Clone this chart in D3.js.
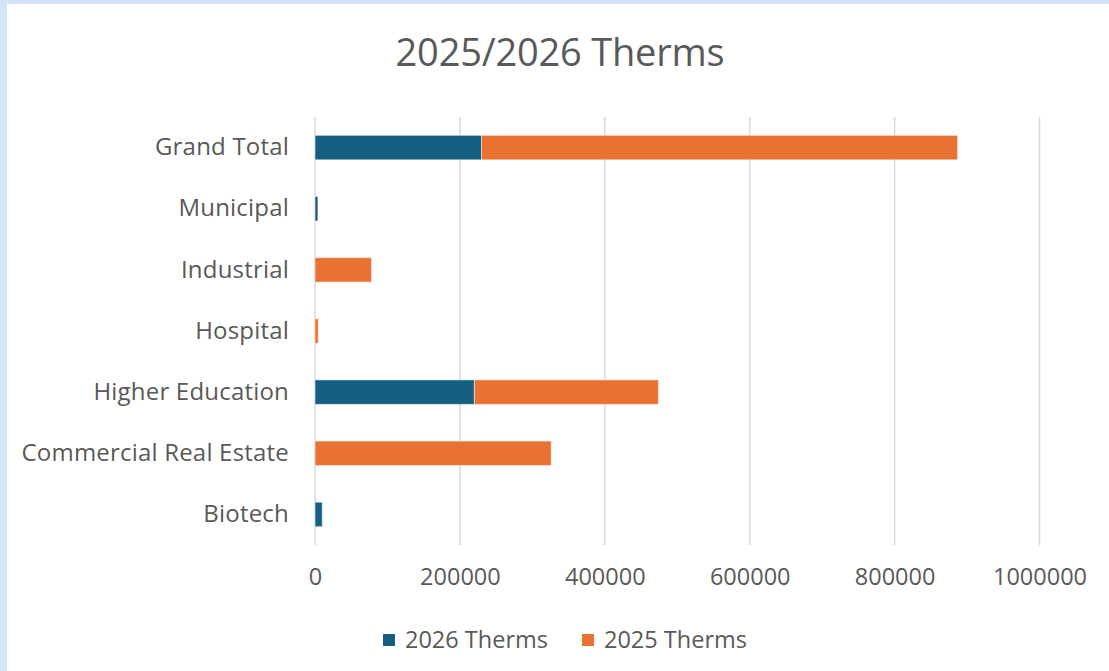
<!DOCTYPE html>
<head>
  <meta charset="utf-8">
  <script src="https://cdn.jsdelivr.net/npm/d3@7"></script>
  <style>
    body { margin: 0; background: #fff; }
    text { font-family: "Open Sans", sans-serif; fill: #595959; }
  </style>
</head>
<body>
<svg width="1109" height="671"></svg>
<script>
// data
var categories = ["Grand Total", "Municipal", "Industrial", "Hospital", "Higher Education", "Commercial Real Estate", "Biotech"];
var therms2026 = [230000, 4000, 0, 0, 220000, 0, 10000];
var therms2025 = [657000, 0, 78000, 4500, 254000, 326000, 0];
var ticks = [0, 200000, 400000, 600000, 800000, 1000000];
var seriesNames = ["2026 Therms", "2025 Therms"];
var colors = ["#156082", "#E97132"];

var svg = d3.select("svg");

// light blue frame on top / left
svg.append("rect").attr("width", 1109).attr("height", 671).attr("fill", "#d3e3f8");
svg.append("rect").attr("x", 7).attr("y", 4).attr("width", 1102).attr("height", 667).attr("fill", "#fff");

var x = d3.scaleLinear().domain([0, 1000000]).range([315, 1039.5]);
var y = d3.scaleBand().domain(categories).range([117, 545]).paddingInner(0.6).paddingOuter(0.3);

svg.append("text")
  .attr("x", 560).attr("y", 66)
  .attr("text-anchor", "middle")
  .style("font-size", "38px")
  .style("letter-spacing", "-0.2px")
  .text("2025/2026 Therms");

// gridlines
svg.append("g").selectAll("line").data(ticks).enter().append("line")
  .attr("x1", d => x(d)).attr("x2", d => x(d))
  .attr("y1", 117).attr("y2", 545)
  .attr("stroke", "#d9d9d9").attr("stroke-width", 1.5);

// x axis labels
var xAxis = svg.append("g").attr("transform", "translate(0,545)")
  .call(d3.axisBottom(x).tickValues(ticks).tickSize(0).tickPadding(23).tickFormat(d3.format("d")));
xAxis.select(".domain").remove();
xAxis.selectAll("text").style("font-size", "23.5px").style("fill", "#595959").style("font-family", "Open Sans");

// y axis labels
var yAxis = svg.append("g").attr("transform", "translate(315,0)")
  .call(d3.axisLeft(y).tickSize(0).tickPadding(26));
yAxis.select(".domain").remove();
yAxis.selectAll("text").style("font-size", "24px").style("fill", "#595959").style("font-family", "Open Sans")
  .style("letter-spacing", "0.2px");

var stackData = categories.map((c, i) => ({ cat: c, a: therms2026[i], b: therms2025[i] }));
var stacked = d3.stack().keys(["a", "b"])(stackData);

svg.append("g").selectAll("g").data(stacked).enter().append("g")
  .attr("fill", (d, i) => colors[i])
  .selectAll("rect").data(d => d.filter(p => p[1] > p[0])).enter().append("rect")
  .attr("x", d => x(d[0]))
  .attr("width", d => x(d[1]) - x(d[0]))
  .attr("y", d => y(d.data.cat))
  .attr("height", y.bandwidth())
  .attr("stroke", "#fff").attr("stroke-opacity", 0.5).attr("stroke-width", 1);

// legend
var legend = svg.append("g").selectAll("g").data(seriesNames).enter().append("g")
  .attr("transform", (d, i) => "translate(" + (383 + i * 199) + ",634)");
legend.append("rect").attr("width", 12).attr("height", 12).attr("fill", (d, i) => colors[i]);
legend.append("text").attr("x", 22).attr("y", 13.5).style("font-size", "23.5px").text(d => d);
</script>
</body>
</html>
